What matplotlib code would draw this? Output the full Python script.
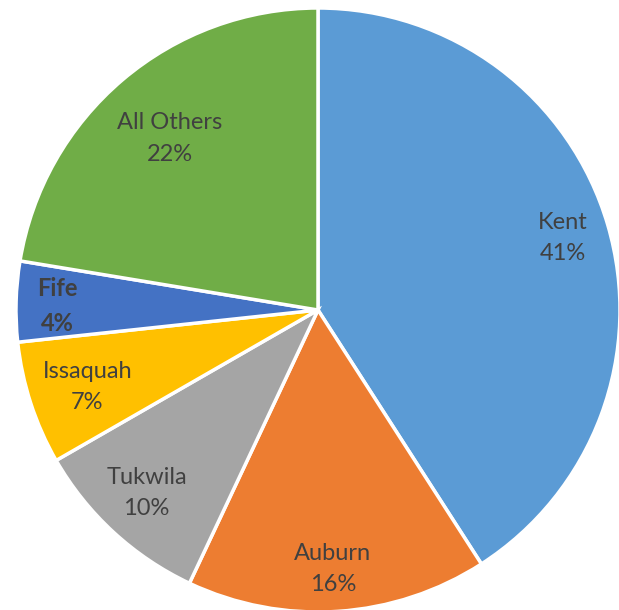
import numpy as np
import matplotlib.pyplot as plt

cities = ['Kent', 'Auburn', 'Tukwila', 'Issaquah', 'Fife', 'All Others']
shares = [40.9, 16.1, 9.7, 6.6, 4.3, 22.4]
colors = ['#5B9BD5', '#ED7D31', '#A5A5A5', '#FFC000', '#4472C4', '#70AD47']
# label placement tuned by eye: distance (fraction of radius) and angle nudge (deg)
label_r = [0.845, 0.86, 0.83, 0.805, 0.864, 0.75]
label_nudge = [0, -0.5, -0.5, 0.5, 0.7, 0.5]

fig = plt.figure(figsize=(6.19, 6.10), dpi=100)
ax = fig.add_axes([0, 0, 1, 1])

wedges, _ = ax.pie(shares, colors=colors, startangle=90, counterclock=False,
                   wedgeprops=dict(edgecolor='white', linewidth=2.5))

for w, name, pct, r, nd in zip(wedges, cities, shares, label_r, label_nudge):
    mid = np.deg2rad((w.theta1 + w.theta2) / 2 + nd)
    ax.text(r * np.cos(mid), r * np.sin(mid), f"{name}\n{round(pct)}%",
            ha='center', va='center', fontsize=17, family='Lato',
            color='#404040', linespacing=1.6,
            fontweight='bold' if name == 'Fife' else 'normal')

# pie radius ~302 px, centre at (318, 310) px
ax.set_aspect('auto')
ax.set_xlim(-318 / 302, (619 - 318) / 302)
ax.set_ylim(-(610 - 310) / 302, 310 / 302)
ax.axis('off')

fig.savefig('out.png', dpi=100)
